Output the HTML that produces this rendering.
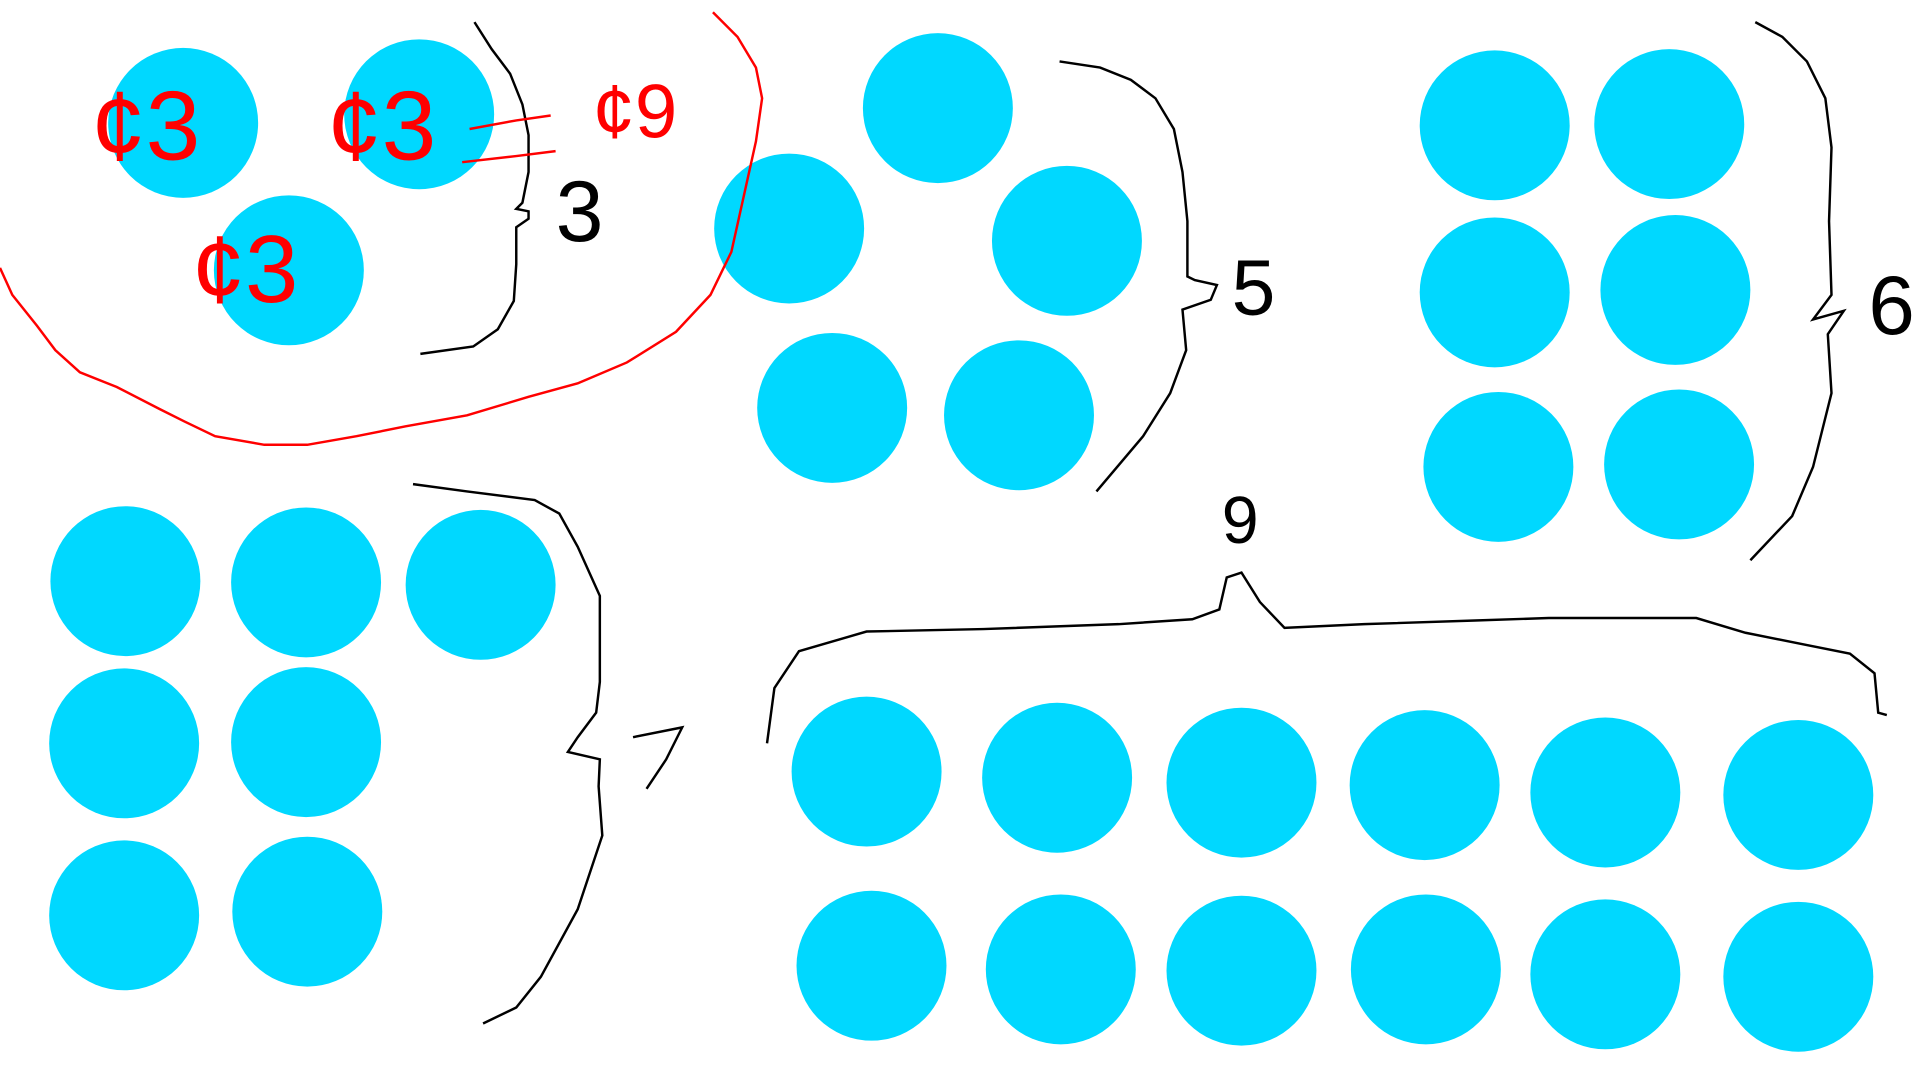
<!DOCTYPE html>
<html>
<head>
<meta charset="utf-8">
<style>
html,body{margin:0;padding:0;background:#fff;width:1920px;height:1080px;overflow:hidden}
svg{display:block}
text{font-family:"Liberation Sans",sans-serif}
</style>
</head>
<body>
<svg id="chart" width="1920" height="1080" viewBox="0 0 1562 879" preserveAspectRatio="none" xmlns="http://www.w3.org/2000/svg">
<g id="dots"></g>
<g id="ink">
  <polyline fill="none" stroke="#f00" stroke-width="2" points="0,218 10,240 30,265 45,285 65,303 95,315 130,333 150,343 175,355 215,362 250,362 290,355 330,347 380,338 430,323 470,312 510,295 550,270 578,240 595,205 605,160 615,115 620,80 615,55 600,30 580,10"/>
  <polyline fill="none" stroke="#000" stroke-width="2" points="386,18 400,40 415,60 425,85 430,110 430,140 425,165 420,170 430,172 430,178 420,185 420,215 418,245 405,268 385,282 342,288"/>
  <text x="452" y="196" font-size="70" fill="#000">3</text>
  <polyline fill="none" stroke="#f00" stroke-width="2" points="382,105 420,98 448,94"/>
  <polyline fill="none" stroke="#f00" stroke-width="2" points="376,132 420,127 452,123"/>
  <text x="482" y="112" font-size="62" fill="#f00">¢9</text>
  <text x="74" y="130" font-size="80" fill="#f00">¢3</text>
  <text x="266" y="130" font-size="80" fill="#f00">¢3</text>
  <text x="156" y="246" font-size="78" fill="#f00">¢3</text>
  <polyline fill="none" stroke="#000" stroke-width="2" points="862,50 895,55 920,65 940,80 955,105 962,140 966,180 966,225 972,228 990,232 985,244 962,252 965,285 952,320 930,355 892,400"/>
  <text x="1002" y="256" font-size="64" fill="#000">5</text>
  <polyline fill="none" stroke="#000" stroke-width="2" points="1428,18 1450,30 1470,50 1485,80 1490,120 1488,180 1490,240 1475,260 1500,253 1487,272 1490,320 1475,380 1458,420 1424,456"/>
  <text x="1520" y="272" font-size="68" fill="#000">6</text>
  <polyline fill="none" stroke="#000" stroke-width="2" points="336,394 380,400 435,407 455,418 470,445 488,485 488,555 485,580 470,600 462,612 488,618 487,640 490,680 470,740 440,795 420,820 393,833"/>
  <polyline fill="none" stroke="#000" stroke-width="2" points="515,600 555,592 542,618 526,642"/>
  <polyline fill="none" stroke="#000" stroke-width="2" points="624,605 630,560 650,530 705,514 800,512 910,508 970,504 992,496 998,470 1010,466 1025,490 1045,511 1110,508 1200,505 1260,503 1380,503 1420,515 1470,525 1505,532 1525,548 1528,580 1535,582"/>
  <text x="994" y="442" font-size="54" fill="#000">9</text>
</g>
</svg>
<script>
const groupNames=["group-3","group-5","group-6","group-7","group-12"];
const groupCounts=[3,5,6,7,12];
const dotX=[149,341,235, 763,642,868,677,829, 1216,1358,1216,1363,1219,1366, 102,249,391,101,249,101,250, 705,860,1010,1159,1306,1463,709,863,1010,1160,1306,1463];
const dotY=[100,93,220, 88,186,196,332,338, 102,101,238,236,380,378, 473,474,476,605,604,745,742, 628,633,637,639,645,647,786,789,790,789,793,795];
const R=61;
(function(){
  var g=document.getElementById('dots');
  var k=0;
  for(var gi=0;gi<groupCounts.length;gi++){
    for(var i=0;i<groupCounts[gi];i++,k++){
      var c=document.createElementNS('http://www.w3.org/2000/svg','circle');
      c.setAttribute('cx',dotX[k]);
      c.setAttribute('cy',dotY[k]);
      c.setAttribute('r',R);
      c.setAttribute('fill','#00d8ff');
      
      
      g.appendChild(c);
    }
  }
})();
</script>
</body>
</html>
